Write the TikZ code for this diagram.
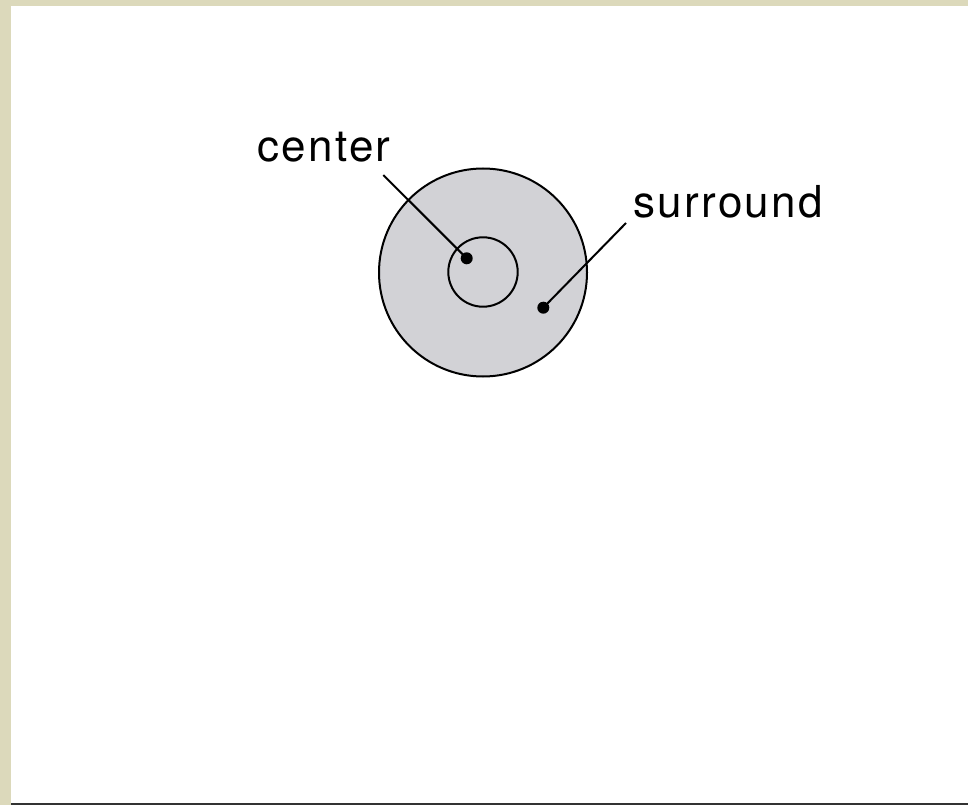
\documentclass[tikz,border=0pt]{standalone}
\usepackage{fontspec}
\setmainfont{TeX Gyre Heros}
\newfontfamily\lblfont[LetterSpace=5]{TeX Gyre Heros}
\definecolor{beige}{RGB}{220,217,187}
\definecolor{fillgray}{RGB}{210,210,214}
\definecolor{bottomline}{RGB}{50,50,50}
\begin{document}
\begin{tikzpicture}[x=1pt,y=-1pt,
  ring/.style={draw=black,line width=2pt},
  leader/.style={draw=black,line width=2pt},
  dotmark/.style={circle,fill=black,inner sep=0pt,minimum size=12pt},
  lbl/.style={font=\lblfont\fontsize{44}{44}\selectfont,inner sep=0pt,anchor=base west}]
\useasboundingbox (0,0) rectangle (968,805);
\fill[white] (0,0) rectangle (968,805);
\fill[beige] (0,0) rectangle (968,6);
\fill[beige] (0,0) rectangle (11,805);
\fill[bottomline] (11,803) rectangle (968,805);
% circles
\draw[ring,fill=fillgray] (483,272.5) circle (104);
\draw[ring] (483,272) circle (34.7);
% dots
\node[dotmark] (cdot) at (466.7,258.3) {};
\node[dotmark] (sdot) at (543.3,307.7) {};
% labels
\node[lbl] (clbl) at (257.5,161.7) {center};
\node[lbl] (slbl) at (633.5,217) {surround};
\coordinate (cend) at (383.3,175);
\coordinate (send) at (626,223);
\draw[leader] (cdot.center) -- (cend);
\draw[leader] (sdot.center) -- (send);
\end{tikzpicture}
\end{document}
